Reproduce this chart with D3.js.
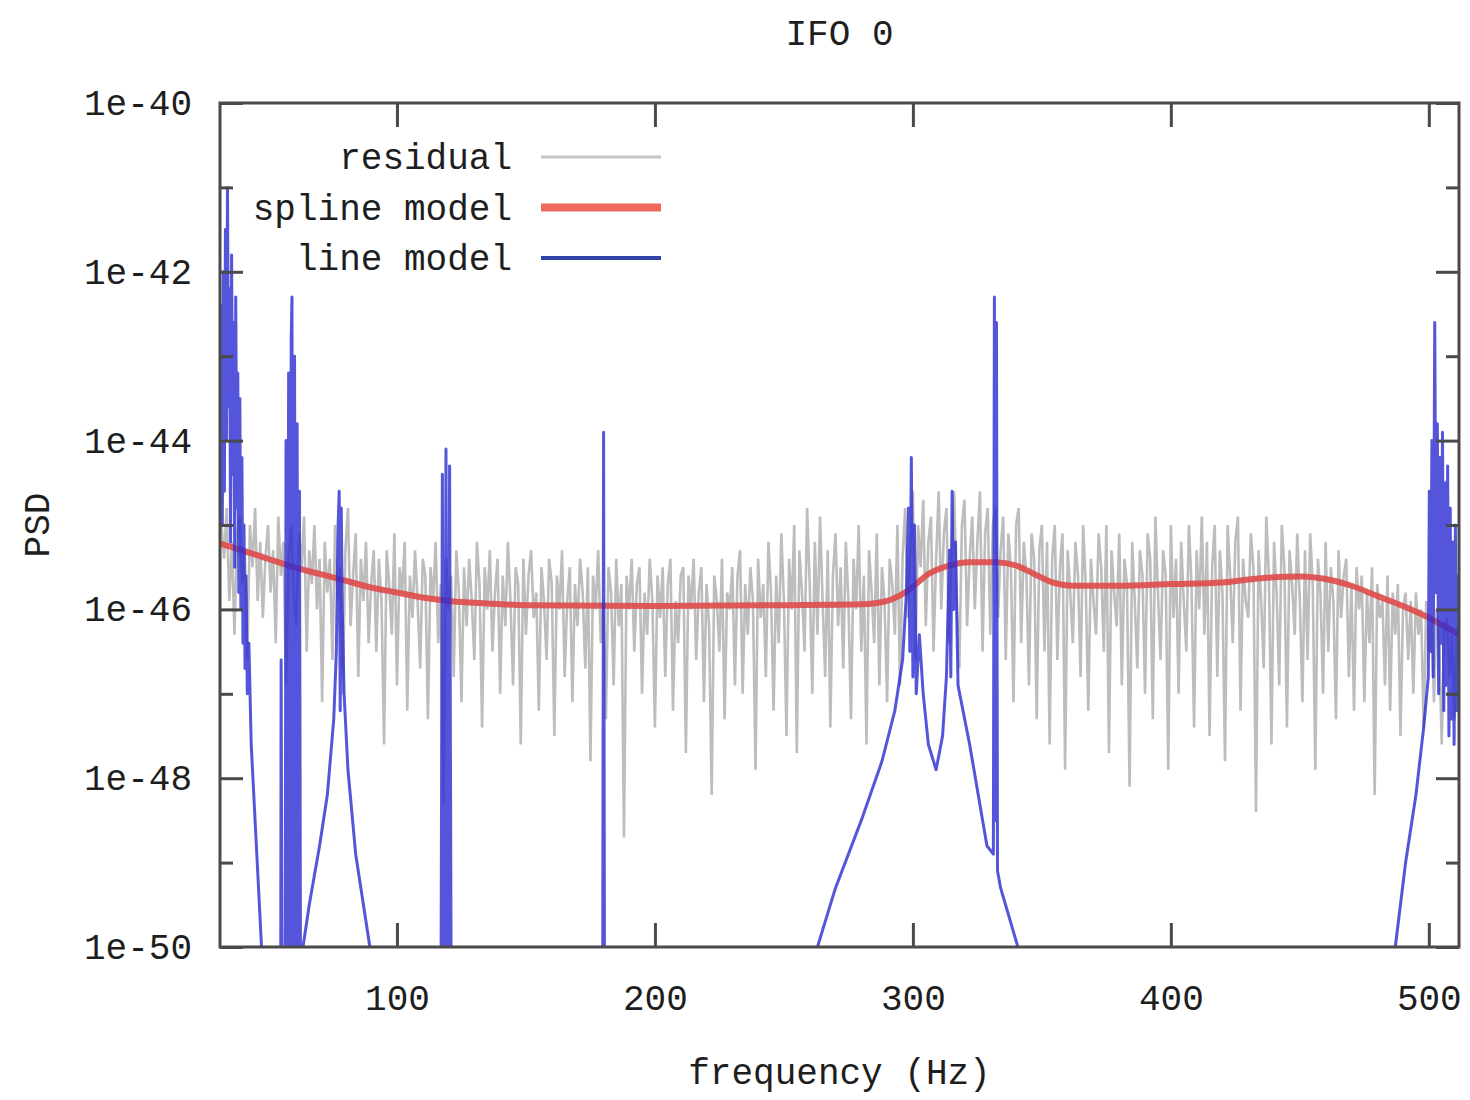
<!DOCTYPE html>
<html><head><meta charset="utf-8">
<script src="https://cdn.jsdelivr.net/npm/d3@7"></script>
<style>html,body{margin:0;background:#fff}</style>
</head><body>
<svg id="chart" width="1470" height="1100"></svg>
<script>
// ---------- data ----------
const title = "IFO 0";
const xLabel = "frequency (Hz)";
const yLabel = "PSD";
const seriesNames = ["residual", "spline model", "line model"];
const xTickValues = [100, 200, 300, 400, 500];
const xTickLabels = ["100", "200", "300", "400", "500"];
const yTickExponents = [-50, -48, -46, -44, -42, -40];
const yTickLabels = ["1e-50", "1e-48", "1e-46", "1e-44", "1e-42", "1e-40"];
const yMinorExponents = [-49, -47, -45, -43, -41];
const xDomainHz = [31.4, 511.7];

// residual PSD, one sample per Hz starting at 32 Hz (log10 values)
const residualStartHz = 32, residualStepHz = 1;
const residualLog10 = [
-45.0,-45.4,-44.8,-45.9,-45.2,-46.3,-45.1,-44.9,-45.7,-45.3,-46.6,-45.0,-45.5,-44.8,-45.9,-45.2,-46.1,-45.4,-45.0,-45.8,
-45.3,-46.4,-44.9,-45.6,-45.2,-46.9,-45.4,-45.0,-45.8,-46.2,-45.1,-45.5,-44.9,-46.5,-45.3,-45.7,-45.0,-46.0,-45.4,-47.1,
-45.2,-45.8,-45.4,-46.6,-45.0,-45.9,-45.5,-47.0,-45.3,-44.8,-46.2,-45.6,-45.1,-46.8,-45.4,-45.9,-45.2,-46.4,-45.7,-45.3,
-46.5,-45.4,-45.9,-47.6,-45.3,-45.7,-46.3,-45.1,-46.9,-45.5,-45.8,-45.2,-47.2,-45.6,-46.1,-45.3,-45.9,-46.7,-45.4,-45.6,
-47.3,-45.5,-45.9,-45.2,-46.4,-45.7,-48.3,-45.4,-46.0,-45.6,-46.8,-45.3,-45.8,-47.1,-45.5,-46.2,-45.4,-45.9,-46.6,-45.2,
-45.7,-47.4,-45.5,-46.0,-45.3,-46.5,-45.8,-45.4,-47.0,-45.6,-46.2,-45.2,-45.9,-46.9,-45.5,-45.7,-47.6,-45.4,-46.3,-45.6,
-45.3,-46.1,-45.8,-47.2,-45.5,-45.9,-46.6,-45.4,-45.7,-47.5,-45.6,-46.0,-45.3,-46.8,-45.9,-45.5,-47.1,-45.7,-46.2,-45.4,
-45.8,-46.7,-45.5,-47.8,-45.6,-46.0,-45.3,-46.4,-45.9,-47.3,-45.5,-45.8,-46.9,-45.4,-46.2,-45.7,-48.7,-45.6,-46.0,-45.4,
-46.5,-45.7,-45.5,-47.0,-45.8,-46.3,-45.4,-45.9,-47.4,-45.6,-46.1,-45.5,-46.8,-45.7,-45.4,-47.2,-45.9,-46.4,-45.6,-45.5,
-47.7,-45.6,-46.0,-45.4,-46.6,-45.8,-45.5,-47.1,-45.7,-46.2,-48.2,-45.6,-45.9,-46.5,-45.4,-47.3,-45.8,-46.0,-45.5,-46.9,
-45.6,-45.3,-47.0,-45.7,-46.3,-45.5,-45.9,-47.9,-45.4,-46.1,-45.7,-46.8,-45.2,-45.8,-47.2,-45.6,-46.4,-45.1,-45.9,-47.5,
-45.4,-46.0,-45.0,-47.7,-45.3,-45.8,-46.5,-44.8,-45.7,-47.0,-45.2,-46.3,-44.9,-45.9,-46.8,-45.3,-47.4,-45.6,-45.1,-46.2,
-45.5,-46.7,-45.2,-45.9,-47.3,-45.4,-46.0,-45.0,-46.5,-45.6,-47.6,-45.3,-45.8,-46.4,-45.1,-46.9,-45.5,-45.9,-47.1,-45.4,
-45.7,-46.3,-45.0,-46.9,-45.4,-44.8,-46.1,-45.3,-44.6,-46.6,-45.0,-45.5,-44.7,-46.2,-45.2,-44.9,-46.5,-45.4,-44.6,-46.0,
-45.1,-44.8,-46.4,-45.3,-44.6,-45.9,-46.7,-45.0,-44.7,-46.2,-45.4,-44.9,-46.0,-45.2,-44.6,-46.5,-45.1,-44.8,-46.3,-45.0,
-44.8,-46.1,-45.3,-44.9,-46.6,-45.1,-45.5,-47.1,-45.0,-44.8,-46.4,-45.2,-45.6,-46.9,-45.1,-45.4,-47.3,-45.3,-45.0,-46.5,
-45.2,-47.6,-45.4,-45.0,-46.6,-45.5,-45.1,-47.9,-45.3,-45.8,-46.4,-45.2,-45.6,-46.8,-45.0,-45.7,-47.2,-45.4,-45.9,-46.3,
-45.1,-45.5,-46.5,-45.0,-47.7,-45.3,-45.8,-46.2,-45.1,-46.9,-45.4,-45.7,-48.1,-45.2,-45.9,-46.7,-45.3,-45.6,-47.0,-45.1,
-45.4,-47.3,-44.9,-45.8,-46.6,-45.3,-45.6,-47.9,-45.0,-46.1,-45.4,-47.0,-45.2,-45.9,-46.5,-45.0,-45.7,-47.4,-45.3,-46.0,
-44.9,-46.3,-45.2,-47.5,-45.5,-45.0,-46.8,-45.3,-45.8,-47.8,-45.0,-45.6,-46.4,-45.2,-44.9,-47.2,-45.4,-45.9,-46.1,-45.1,
-45.5,-48.4,-45.3,-45.9,-46.7,-44.9,-45.6,-47.6,-45.2,-45.8,-46.9,-45.0,-45.5,-47.4,-45.3,-45.7,-46.3,-45.1,-45.9,-47.1,
-45.3,-46.6,-45.1,-45.7,-47.9,-45.4,-45.8,-47.0,-45.2,-46.5,-45.5,-45.9,-47.3,-45.3,-46.1,-45.6,-45.4,-46.8,-45.7,-47.2,
-45.5,-46.0,-45.6,-47.1,-45.8,-46.4,-45.5,-48.2,-45.7,-46.1,-45.9,-46.9,-45.6,-47.2,-45.8,-46.3,-45.7,-47.5,-46.0,-45.8,
-46.6,-45.9,-47.0,-45.8,-46.3,-46.0,-47.4,-45.9,-46.5,-46.1,-47.1,-46.0,-46.4,-47.6,-46.2,-46.1,-46.8,-46.3,-47.3,-46.2
];

// spline model (log10 values)
const splineHz =    [31.4, 40, 50, 60, 70, 80, 90, 100, 110, 120, 135, 150, 200, 250, 280, 290, 298, 306, 314, 322, 332, 340, 347, 354, 362, 380, 400, 420, 435, 450, 460, 470, 480, 490, 500, 506, 512];
const splineLog10 = [-45.22,-45.30,-45.40,-45.50,-45.58,-45.66,-45.74,-45.80,-45.86,-45.90,-45.93,-45.95,-45.96,-45.95,-45.94,-45.90,-45.78,-45.58,-45.48,-45.44,-45.44,-45.48,-45.58,-45.68,-45.72,-45.72,-45.70,-45.68,-45.63,-45.61,-45.64,-45.72,-45.84,-45.96,-46.10,-46.20,-46.30];

// line model (log10 values; below 1e-50 is off the plot)
const lineModelHz = [
31.5,31.9,32.3,32.7,33.1,33.5,33.9,34.3,34.7,35.1,35.5,35.9,36.3,36.7,37.1,37.5,37.9,38.3,38.7,39.1,39.5,39.9,40.3,40.7,41.1,41.5,42.0,42.6,43.5,45.5,47.5,48.5,
54.9,55.1,55.5,56.6,57.0,57.5,58.0,58.5,59.0,59.3,59.8,60.3,60.8,61.3,61.8,62.2,
62.6,66,70,73,75.5,76.5,77.2,77.6,78.0,78.4,78.8,79.5,81,84,87,90.5,92,
117.0,117.6,118.3,119.0,119.7,120.4,121.1,
179.7,180.1,180.5,
258,261,270,280,288,293,296,297.5,298.3,298.8,299.4,300.0,300.6,301.3,302.5,304,306,309,311.5,313,314.2,314.7,315.2,315.8,316.5,317.5,322,328.7,331.2,331.6,332.0,332.4,332.8,334,340.7,343,
485,487,491,495,498,499.8,500.2,500.7,501.2,501.7,502.3,502.8,503.3,503.8,504.3,504.8,505.3,505.8,506.3,506.8,507.3,507.8,508.3,508.8,509.3,509.8,510.3,510.8,511.3,512
];
const lineModelLog10 = [
-43.5,-42.4,-45.0,-42.0,-44.6,-41.5,-44.0,-41.0,-43.6,-42.2,-45.2,-41.8,-44.4,-42.6,-45.5,-42.3,-44.8,-43.2,-45.8,-43.5,-46.0,-44.2,-46.4,-45.0,-46.7,-45.6,-47.0,-46.4,-47.6,-48.8,-50.0,-51.5,
-51.5,-46.6,-51.5,-51.5,-44.0,-51.5,-43.2,-51.5,-42.8,-42.3,-51.5,-43.0,-51.5,-43.8,-51.5,-44.6,
-50.2,-49.5,-48.8,-48.2,-47.3,-46.5,-45.0,-44.6,-47.2,-44.8,-46.0,-47.0,-47.9,-48.9,-49.5,-50.2,-51.5,
-51.5,-44.4,-51.5,-44.1,-51.5,-44.3,-51.5,
-51.5,-43.9,-51.5,
-51.5,-50.2,-49.3,-48.5,-47.8,-47.2,-46.6,-45.8,-44.8,-46.5,-44.2,-46.8,-45.0,-47.0,-46.3,-47.0,-47.6,-47.9,-47.5,-46.8,-45.3,-46.8,-44.6,-46.0,-45.2,-46.9,-47.6,-48.8,-48.9,-42.3,-48.5,-42.6,-49.1,-49.3,-50.0,-51.5,
-51.5,-50.0,-49.0,-48.2,-47.4,-46.8,-44.6,-46.5,-44.0,-46.8,-42.6,-45.8,-43.8,-47.0,-44.2,-46.4,-43.9,-47.2,-44.5,-46.9,-44.3,-47.5,-44.8,-47.3,-45.2,-47.6,-45.0,-47.2,-45.6,-46.8
];

// ---------- layout ----------
const plot = {left: 220, right: 1459, top: 103, bottom: 947};
const FONT = "'Liberation Mono', 'DejaVu Sans Mono', monospace";
const FS = 36;
const textColor = "#1e1e1e";

const svg = d3.select("#chart");
const x = d3.scaleLinear().domain(xDomainHz).range([plot.left, plot.right]);
const y = d3.scaleLog().domain([1e-50, 1e-40]).range([plot.bottom, plot.top]);
const p10 = e => Math.pow(10, e);

svg.append("defs").append("clipPath").attr("id", "clip")
  .append("rect").attr("x", plot.left).attr("y", plot.top)
  .attr("width", plot.right - plot.left).attr("height", plot.bottom - plot.top);

const residual = residualLog10.map((v, i) => ({f: residualStartHz + i * residualStepHz, v: p10(v)}));
const spline = splineHz.map((f, i) => ({f, v: p10(splineLog10[i])}));
const lineModel = lineModelHz.map((f, i) => ({f, v: p10(lineModelLog10[i])}));

const g = svg.append("g").attr("clip-path", "url(#clip)");
const lineGen = d3.line().x(d => x(d.f)).y(d => y(d.v));

g.append("path").datum(residual).attr("d", lineGen)
  .attr("fill", "none").attr("stroke", "#bdbdbd").attr("stroke-width", 2.6);
g.append("path").datum(spline).attr("d", d3.line().x(d => x(d.f)).y(d => y(d.v)).curve(d3.curveMonotoneX))
  .attr("fill", "none").attr("stroke", "#e04a4a").attr("stroke-width", 6).attr("stroke-opacity", 0.9);
g.append("path").datum(lineModel).attr("d", lineGen)
  .attr("fill", "none").attr("stroke", "#2a2ad2").attr("stroke-width", 3).attr("stroke-opacity", 0.8)
  .attr("stroke-linejoin", "round");

// ---------- axes ----------
const axisColor = "#4a4a4a";
function styleAxis(sel) {
  sel.select(".domain").remove();
  sel.selectAll(".tick line").attr("stroke", axisColor).attr("stroke-width", 3);
  sel.selectAll(".tick text").attr("fill", textColor).style("font-family", FONT).style("font-size", FS + "px");
}
svg.append("g").attr("transform", `translate(0,${plot.bottom})`)
  .call(d3.axisBottom(x).tickValues(xTickValues).tickFormat((d, i) => xTickLabels[i]).tickSize(-24).tickPadding(37))
  .call(styleAxis);
svg.append("g").attr("transform", `translate(0,${plot.top})`)
  .call(d3.axisTop(x).tickValues(xTickValues).tickFormat("").tickSize(-24))
  .call(styleAxis);
svg.append("g").attr("transform", `translate(${plot.left},0)`)
  .call(d3.axisLeft(y).tickValues(yTickExponents.map(p10)).tickFormat((d, i) => yTickLabels[i]).tickSize(-23).tickPadding(28))
  .call(styleAxis);
svg.append("g").attr("transform", `translate(${plot.left},0)`)
  .call(d3.axisLeft(y).tickValues(yMinorExponents.map(p10)).tickFormat("").tickSize(-13))
  .call(styleAxis);
svg.append("g").attr("transform", `translate(${plot.right},0)`)
  .call(d3.axisRight(y).tickValues(yTickExponents.map(p10)).tickFormat("").tickSize(-23))
  .call(styleAxis);
svg.append("g").attr("transform", `translate(${plot.right},0)`)
  .call(d3.axisRight(y).tickValues(yMinorExponents.map(p10)).tickFormat("").tickSize(-13))
  .call(styleAxis);

svg.append("rect").attr("x", plot.left).attr("y", plot.top)
  .attr("width", plot.right - plot.left).attr("height", plot.bottom - plot.top)
  .attr("fill", "none").attr("stroke", axisColor).attr("stroke-width", 3);

// ---------- texts ----------
const txt = (xp, yp, s, anchor) => svg.append("text").attr("x", xp).attr("y", yp)
  .attr("text-anchor", anchor || "middle").attr("fill", textColor)
  .style("font-family", FONT).style("font-size", FS + "px").text(s);
txt((plot.left + plot.right) / 2, 45, title);
txt((plot.left + plot.right) / 2, 1084, xLabel);
txt(0, 0, yLabel).attr("transform", `translate(49,${(plot.top + plot.bottom) / 2}) rotate(-90)`);

// ---------- legend ----------
const legendStyles = [
  {stroke: "#c4c4c4", width: 3},
  {stroke: "#ee6a5e", width: 8},
  {stroke: "#3344a8", width: 4}
];
seriesNames.forEach((name, i) => {
  const ly = 157 + i * 50.5;
  txt(512, ly + 12, name, "end");
  svg.append("line").attr("x1", 541).attr("x2", 661).attr("y1", ly).attr("y2", ly)
    .attr("stroke", legendStyles[i].stroke).attr("stroke-width", legendStyles[i].width);
});
</script>
</body></html>
